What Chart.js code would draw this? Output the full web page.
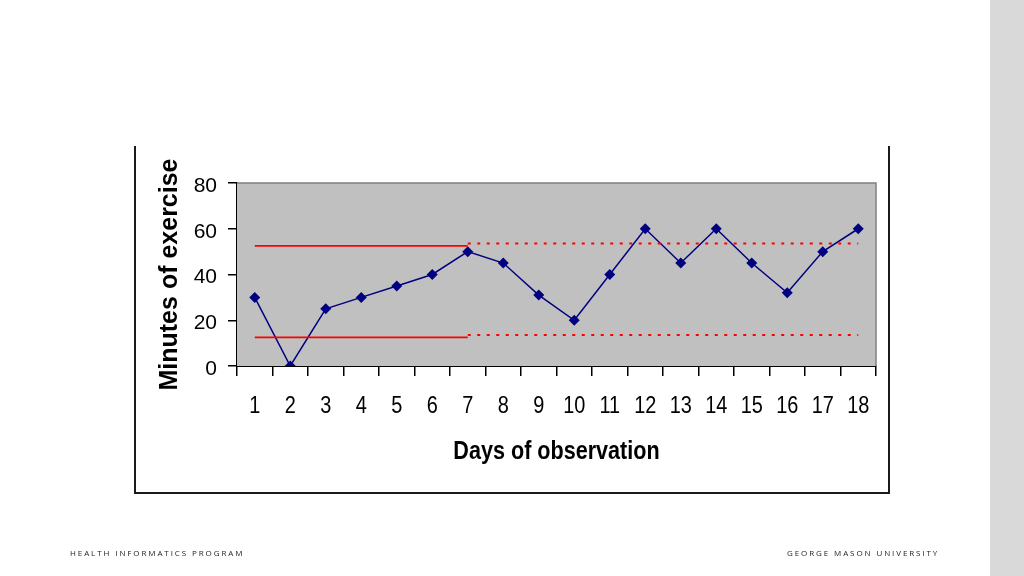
<!DOCTYPE html>
<html>
<head>
<meta charset="utf-8">
<script src="https://cdn.jsdelivr.net/npm/chart.js@4"></script>
<style>
  html, body { margin: 0; padding: 0; background: #fff; }
  #wrap { position: relative; width: 1024px; height: 576px; overflow: hidden; }
  #strip { position: absolute; left: 990px; top: 0; width: 34px; height: 576px; background: #d9d9d9; }
  #box { position: absolute; left: 134px; top: 146px; width: 752px; height: 346px;
         border-left: 2px solid #1a1a1a; border-right: 2px solid #1a1a1a; border-bottom: 2px solid #1a1a1a; }
  #chart { position: absolute; left: 0; top: 0; }
  .foot { position: absolute; top: 547px; font-family: "Open Sans", sans-serif; font-size: 8px;
          letter-spacing: 1.9px; color: #222; }
</style>
</head>
<body>
<div id="wrap">
  <div id="strip"></div>
  <div id="box"></div>
  <canvas id="chart" width="1024" height="576"></canvas>
  <div class="foot" style="left:70px">HEALTH INFORMATICS PROGRAM</div>
  <div class="foot" style="left:787px">GEORGE MASON UNIVERSITY</div>
</div>
<script>
// Days on the x axis
const days = ["1", "2", "3", "4", "5", "6", "7", "8", "9", "10", "11", "12", "13", "14", "15", "16", "17", "18"];

// Minutes of exercise per day
const minutes = [30, 0, 25, 30, 35, 40, 50, 45, 31, 20, 40, 60, 45, 60, 45, 32, 50, 60];

// Control limits: solid for the baseline days, dotted afterwards
const upperSolid = [{ x: "1", y: 52.5 }, { x: "7", y: 52.5 }];
const lowerSolid = [{ x: "1", y: 12.5 }, { x: "7", y: 12.5 }];
const upperDotted = [{ x: "7", y: 53.5 }, { x: "18", y: 53.5 }];
const lowerDotted = [{ x: "7", y: 13.5 }, { x: "18", y: 13.5 }];

const yTicks = [0, 20, 40, 60, 80];

const xTitle = "Days of observation";

// Grey plot area with a thin grey frame on top and right
const plotBackground = {
    id: "plotBackground",
    beforeDatasetsDraw(chart) {
        const { ctx, chartArea: a } = chart;
        ctx.save();
        ctx.fillStyle = "#c0c0c0";
        ctx.fillRect(a.left, a.top, a.right - a.left, a.bottom - a.top);
        ctx.strokeStyle = "#808080";
        ctx.lineWidth = 1.5;
        ctx.beginPath();
        ctx.moveTo(a.left, a.top);
        ctx.lineTo(a.right, a.top);
        ctx.lineTo(a.right, a.bottom);
        ctx.stroke();
        ctx.restore();
    }
};

// The original x labels are horizontally squeezed, so draw them condensed
const SQUEEZE = 0.83;
const condensedXLabels = {
    id: "condensedXLabels",
    afterDraw(chart) {
        const { ctx, chartArea: a } = chart;
        const xs = chart.scales.x;
        ctx.save();
        ctx.fillStyle = "#000";
        ctx.textAlign = "center";
        ctx.textBaseline = "alphabetic";
        ctx.font = "24px 'Liberation Sans', Arial, sans-serif";
        days.forEach((d, i) => {
            const px = xs.getPixelForTick(i);
            ctx.save();
            ctx.translate(px, a.bottom + 47);
            ctx.scale(SQUEEZE, 1);
            ctx.fillText(d, 0, 0);
            ctx.restore();
        });
        ctx.font = "bold 26px 'Liberation Sans', Arial, sans-serif";
        ctx.translate((a.left + a.right) / 2, a.bottom + 93);
        ctx.scale(SQUEEZE, 1);
        ctx.fillText(xTitle, 0, 0);
        ctx.restore();
    }
};

const limitStyle = {
    borderColor: "#ff0000",
    borderWidth: 1.8,
    pointRadius: 0,
    fill: false
};

const chart = new Chart(document.getElementById("chart"), {
    type: "line",
    data: {
        labels: days,
        datasets: [
            { ...limitStyle, data: upperSolid },
            { ...limitStyle, data: lowerSolid },
            { ...limitStyle, data: upperDotted, borderDash: [3, 6.5], borderWidth: 2 },
            { ...limitStyle, data: lowerDotted, borderDash: [3, 6.5], borderWidth: 2 },
            {
                label: "Minutes of exercise",
                data: minutes,
                borderColor: "#000080",
                backgroundColor: "#000080",
                borderWidth: 1.5,
                pointStyle: "rectRot",
                pointRadius: 5.5,
                pointBorderWidth: 0,
                tension: 0
            }
        ]
    },
    options: {
        responsive: false,
        animation: false,
        layout: { padding: { top: 183, right: 148, bottom: 100, left: 135 } },
        plugins: { legend: { display: false }, tooltip: { enabled: false } },
        scales: {
            x: {
                type: "category",
                offset: true,
                grid: { offset: true, drawOnChartArea: false, tickLength: 10, color: "#000", lineWidth: 1.5 },
                border: { color: "#000", width: 2 },
                ticks: { display: false, autoSkip: false, maxRotation: 0 },
                title: { display: false },
                afterFit(scale) { scale.height = 110; }
            },
            y: {
                min: 0,
                max: 80,
                afterBuildTicks(scale) { scale.ticks = yTicks.map(v => ({ value: v })); },
                grid: { drawOnChartArea: false, tickLength: 9, color: "#000", lineWidth: 1.5 },
                border: { color: "#000", width: 1.5 },
                ticks: {
                    color: "#000",
                    padding: 11,
                    labelOffset: 3,
                    font: { family: "'Liberation Sans', Arial, sans-serif", size: 21 }
                },
                title: {
                    display: true,
                    text: "Minutes of exercise",
                    color: "#000",
                    padding: { top: 20, bottom: 0 },
                    font: { family: "'Liberation Sans', Arial, sans-serif", size: 25, weight: "bold" }
                },
                afterFit(scale) { scale.width = 102; }
            }
        }
    },
    plugins: [plotBackground, condensedXLabels]
});
</script>
</body>
</html>
